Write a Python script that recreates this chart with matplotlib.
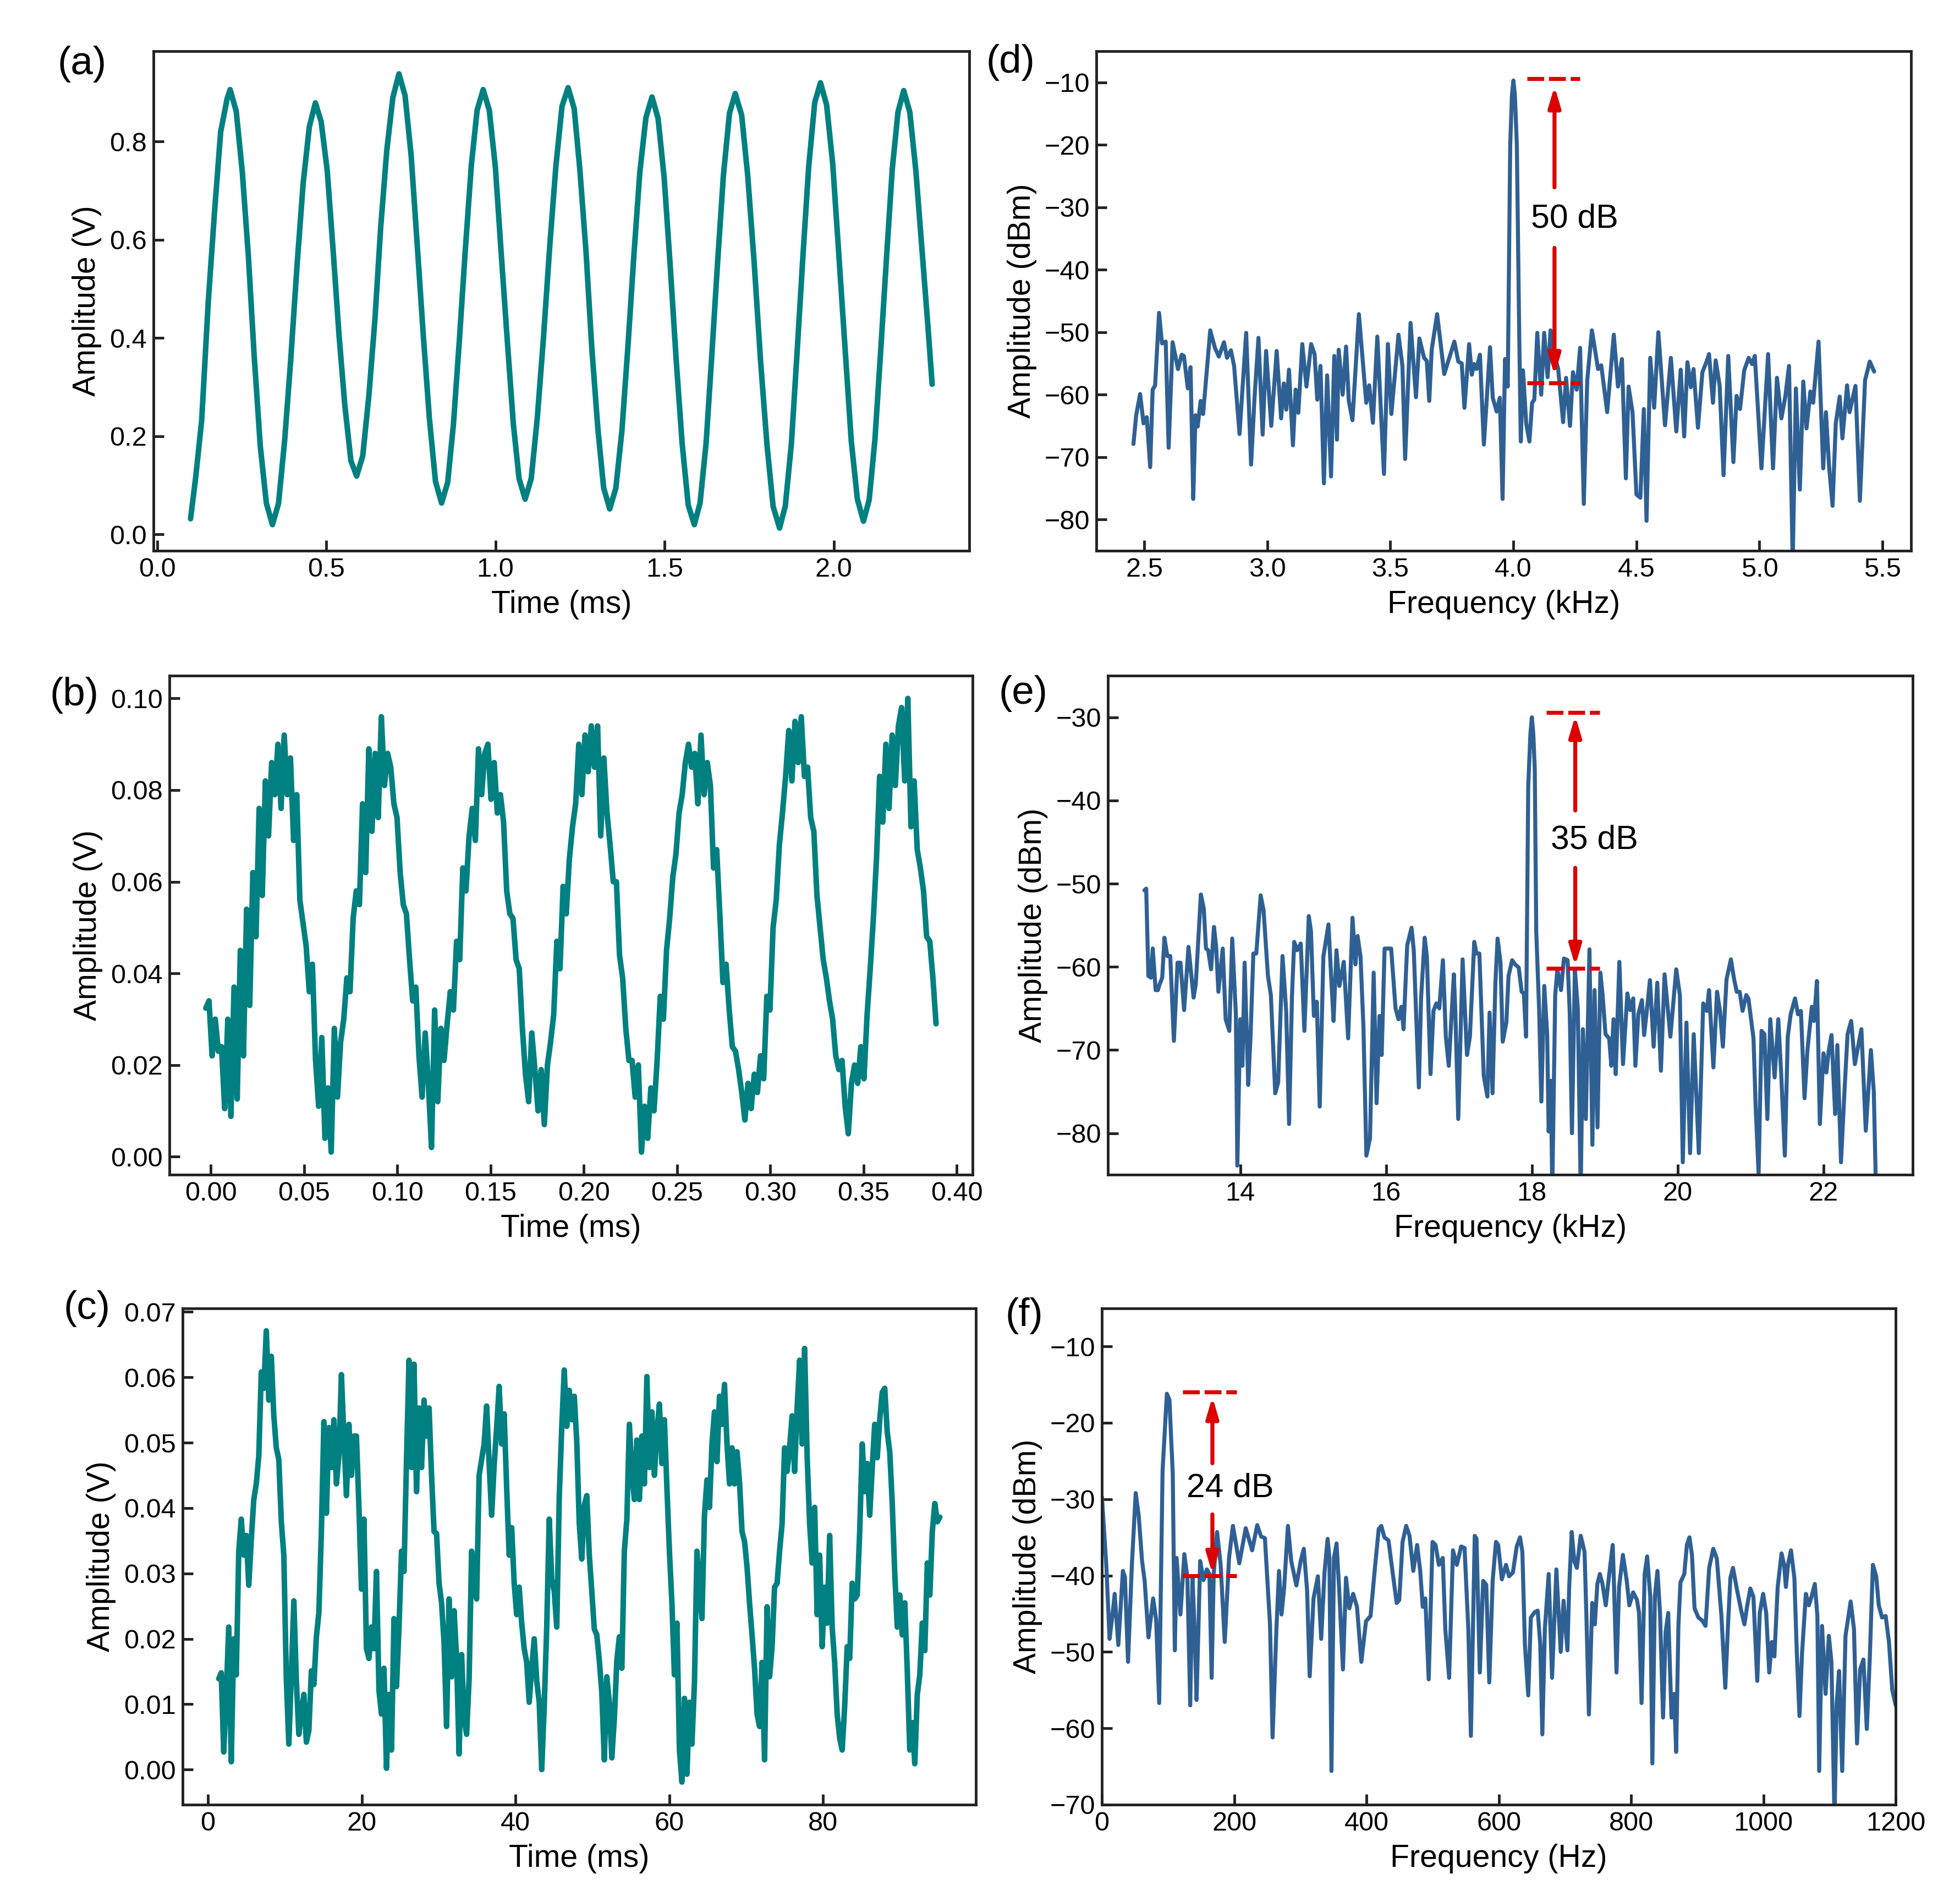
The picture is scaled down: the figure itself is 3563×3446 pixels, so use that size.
import numpy as np
import matplotlib
matplotlib.use("Agg")
import matplotlib.pyplot as plt

plt.rcParams['font.family'] = ['Liberation Sans', 'DejaVu Sans']
plt.rcParams['font.size'] = 14
plt.rcParams['axes.linewidth'] = 1.4
plt.rcParams['axes.edgecolor'] = '#222222'
plt.rcParams['lines.solid_joinstyle'] = 'round'
plt.rcParams['lines.solid_capstyle'] = 'round'

teal = "#008080"
blue = "#2f6094"
red = "#dd0000"

# ---- (a) time trace, 4 kHz tone ----
t_a = [0.099, 0.114, 0.132, 0.151, 0.170, 0.188, 0.207, 0.216,
       0.234, 0.252, 0.270, 0.287, 0.305, 0.323, 0.341,
       0.359, 0.377, 0.395, 0.414, 0.432, 0.450, 0.468,
       0.485, 0.503, 0.520, 0.538, 0.555, 0.573, 0.590,
       0.608, 0.626, 0.644, 0.661, 0.679, 0.697, 0.715,
       0.733, 0.751, 0.769, 0.787, 0.805, 0.823, 0.841,
       0.859, 0.876, 0.894, 0.911, 0.929, 0.946, 0.964,
       0.982, 1.000, 1.017, 1.035, 1.053, 1.070, 1.088,
       1.106, 1.124, 1.142, 1.161, 1.179, 1.197, 1.215,
       1.233, 1.250, 1.268, 1.285, 1.303, 1.320, 1.338,
       1.356, 1.374, 1.392, 1.409, 1.427, 1.445, 1.463,
       1.481, 1.499, 1.517, 1.534, 1.552, 1.570, 1.588,
       1.605, 1.623, 1.640, 1.657, 1.674, 1.692, 1.709,
       1.728, 1.746, 1.765, 1.784, 1.803, 1.821, 1.840,
       1.857, 1.875, 1.892, 1.909, 1.926, 1.944, 1.961,
       1.979, 1.997, 2.015, 2.034, 2.052, 2.070, 2.088,
       2.105, 2.122, 2.139, 2.156, 2.173, 2.190, 2.207,
       2.225, 2.243, 2.261, 2.279, 2.291]
v_a = [0.032, 0.115, 0.233, 0.470, 0.658, 0.820, 0.887, 0.906,
       0.862, 0.738, 0.566, 0.365, 0.181, 0.064, 0.020,
       0.063, 0.190, 0.355, 0.550, 0.716, 0.830, 0.879,
       0.841, 0.741, 0.583, 0.405, 0.263, 0.150, 0.119,
       0.160, 0.282, 0.438, 0.625, 0.782, 0.890, 0.938,
       0.894, 0.772, 0.590, 0.405, 0.236, 0.108, 0.064,
       0.106, 0.224, 0.400, 0.578, 0.752, 0.864, 0.906,
       0.864, 0.748, 0.575, 0.397, 0.226, 0.114, 0.072,
       0.114, 0.238, 0.399, 0.590, 0.751, 0.872, 0.910,
       0.867, 0.741, 0.575, 0.380, 0.215, 0.095, 0.052,
       0.094, 0.211, 0.385, 0.564, 0.738, 0.849, 0.891,
       0.847, 0.726, 0.545, 0.360, 0.186, 0.060, 0.020,
       0.064, 0.187, 0.368, 0.556, 0.731, 0.858, 0.898,
       0.854, 0.730, 0.553, 0.352, 0.181, 0.057, 0.013,
       0.058, 0.185, 0.373, 0.566, 0.748, 0.880, 0.920,
       0.875, 0.756, 0.572, 0.375, 0.190, 0.072, 0.027,
       0.071, 0.194, 0.375, 0.562, 0.743, 0.860, 0.904,
       0.860, 0.740, 0.580, 0.420, 0.306]

# ---- (b) time trace, 18 kHz tone (evenly sampled) ----
t_b_start, t_b_end = -0.0027, 0.3889
v_b = [0.0324, 0.034, 0.022, 0.030, 0.023, 0.024, 0.0105, 0.030, 0.0088, 0.037,
       0.0126, 0.045, 0.022, 0.054, 0.033, 0.062, 0.048, 0.076, 0.057, 0.082,
       0.070, 0.086, 0.079, 0.090, 0.076, 0.092, 0.079, 0.087, 0.069, 0.079,
       0.056, 0.051, 0.046, 0.036, 0.042, 0.021, 0.011, 0.026, 0.004, 0.015,
       0.001, 0.028, 0.013, 0.025, 0.030, 0.039, 0.036, 0.052, 0.058, 0.055,
       0.077, 0.062, 0.089, 0.071, 0.088, 0.074, 0.096, 0.081, 0.088, 0.085,
       0.077, 0.074, 0.062, 0.055, 0.053, 0.043, 0.034, 0.037, 0.022, 0.013,
       0.027, 0.016, 0.002, 0.032, 0.012, 0.028, 0.021, 0.029, 0.036, 0.032,
       0.047, 0.043, 0.063, 0.058, 0.070, 0.076, 0.069, 0.089, 0.079, 0.088,
       0.090, 0.078, 0.086, 0.075, 0.079, 0.073, 0.058, 0.053, 0.052, 0.043,
       0.041, 0.028, 0.018, 0.012, 0.027, 0.019, 0.010, 0.019, 0.007, 0.020,
       0.025, 0.031, 0.047, 0.041, 0.059, 0.053, 0.065, 0.072, 0.077, 0.090,
       0.079, 0.092, 0.084, 0.094, 0.085, 0.094, 0.070, 0.087, 0.075, 0.068,
       0.060, 0.060, 0.044, 0.039, 0.028, 0.021, 0.021, 0.013, 0.020, 0.001,
       0.011, 0.004, 0.015, 0.010, 0.021, 0.035, 0.030, 0.045, 0.052, 0.061,
       0.066, 0.075, 0.079, 0.086, 0.090, 0.085, 0.088, 0.077, 0.092, 0.079,
       0.086, 0.081, 0.063, 0.067, 0.053, 0.038, 0.042, 0.032, 0.024, 0.023,
       0.019, 0.014, 0.008, 0.016, 0.0105, 0.018, 0.014, 0.022, 0.017, 0.035,
       0.032, 0.050, 0.056, 0.068, 0.075, 0.083, 0.093, 0.082, 0.095, 0.086,
       0.096, 0.083, 0.085, 0.074, 0.071, 0.057, 0.050, 0.043, 0.039, 0.034,
       0.030, 0.022, 0.019, 0.021, 0.011, 0.005, 0.016, 0.020, 0.016, 0.024,
       0.017, 0.031, 0.041, 0.052, 0.065, 0.083, 0.073, 0.090, 0.076, 0.092,
       0.081, 0.094, 0.098, 0.082, 0.100, 0.072, 0.082, 0.067, 0.063, 0.058,
       0.048, 0.047, 0.039, 0.029]

# ---- (c) time trace, 100 Hz tone (evenly sampled) ----
t_c_start, t_c_end = 1.4, 95.2
v_c = [0.0139, 0.0148, 0.0027, 0.0115, 0.0218, 0.0012, 0.020, 0.0145, 0.0334, 0.0383,
       0.0328, 0.0358, 0.0282, 0.0352, 0.0413, 0.0437, 0.048, 0.0608, 0.0583, 0.0671,
       0.0565, 0.0632, 0.0541, 0.0492, 0.0474, 0.0379, 0.0328, 0.0139, 0.0039, 0.0145,
       0.0258, 0.0136, 0.0054, 0.0085, 0.0115, 0.0042, 0.006, 0.0151, 0.013, 0.0203,
       0.024, 0.0364, 0.0532, 0.0392, 0.0523, 0.0462, 0.0535, 0.0437, 0.048, 0.0604,
       0.0508, 0.0419, 0.0528, 0.045, 0.051, 0.051, 0.0401, 0.0276, 0.0383, 0.0185,
       0.017, 0.0218, 0.0185, 0.0303, 0.0121, 0.0085, 0.0155, 0.0002, 0.0115, 0.003,
       0.0231, 0.0127, 0.0218, 0.0334, 0.0303, 0.0474, 0.0626, 0.0462, 0.062, 0.0425,
       0.0553, 0.0462, 0.0565, 0.051, 0.0553, 0.045, 0.0364, 0.0361, 0.0285, 0.0255,
       0.0194, 0.0066, 0.0261, 0.0142, 0.0243, 0.017, 0.0024, 0.0176, 0.0078, 0.0054,
       0.0139, 0.0334, 0.0279, 0.0261, 0.045, 0.0474, 0.0498, 0.0556, 0.0468, 0.0389,
       0.0465, 0.0523, 0.0586, 0.0498, 0.0544, 0.0431, 0.0328, 0.037, 0.0285, 0.0237,
       0.0279, 0.0224, 0.0185, 0.0164, 0.0103, 0.0155, 0.020, 0.0136, 0.0103, 0.0,
       0.0097, 0.0218, 0.0383, 0.0291, 0.0273, 0.0218, 0.0416, 0.0523, 0.0611, 0.0525,
       0.058, 0.0535, 0.0571, 0.0501, 0.0376, 0.0322, 0.0404, 0.0419, 0.0328, 0.0273,
       0.0215, 0.0206, 0.0167, 0.0118, 0.0015, 0.0142, 0.0103, 0.0018, 0.0078, 0.0167,
       0.0203, 0.0155, 0.0334, 0.0383, 0.0528, 0.0456, 0.0413, 0.0504, 0.0413, 0.051,
       0.0437, 0.0601, 0.0462, 0.0547, 0.045, 0.0516, 0.0559, 0.0468, 0.0535, 0.0431,
       0.0334, 0.0255, 0.0145, 0.0224, 0.003, -0.0019, 0.0109, -0.0007, 0.0103, 0.0039,
       0.0133, 0.0334, 0.0285, 0.0231, 0.0389, 0.0443, 0.0401, 0.0498, 0.0547, 0.0471,
       0.0571, 0.0528, 0.0589, 0.0498, 0.0437, 0.0492, 0.0437, 0.0486, 0.044, 0.0364,
       0.0349, 0.031, 0.0255, 0.0206, 0.0155, 0.0085, 0.0066, 0.0164, 0.0015, 0.0249,
       0.0142, 0.0188, 0.0279, 0.0285, 0.0334, 0.0376, 0.0492, 0.0456, 0.0492, 0.0541,
       0.0456, 0.0553, 0.0626, 0.0498, 0.0644, 0.048, 0.0376, 0.0316, 0.0401, 0.0237,
       0.0328, 0.0188, 0.0279, 0.0224, 0.0358, 0.0218, 0.0164, 0.0085, 0.0048, 0.003,
       0.0097, 0.0188, 0.017, 0.0285, 0.0261, 0.0267, 0.0364, 0.0498, 0.0425, 0.0468,
       0.0389, 0.0462, 0.0528, 0.0477, 0.0535, 0.0577, 0.0583, 0.0516, 0.0486, 0.0407,
       0.03, 0.0218, 0.0267, 0.0206, 0.0255, 0.0151, 0.003, 0.0072, 0.0009, 0.0115,
       0.0145, 0.0224, 0.0182, 0.0316, 0.0267, 0.0364, 0.0407, 0.0379, 0.0386]

# ---- (d) spectrum around 4 kHz ----
f_d = [2.456, 2.467, 2.483, 2.497, 2.510, 2.524, 2.534, 2.544, 2.560, 2.572,
       2.587, 2.599, 2.615, 2.637, 2.652, 2.661, 2.677, 2.688, 2.699, 2.708,
       2.717, 2.729, 2.739, 2.768, 2.787, 2.803, 2.824, 2.836, 2.852, 2.865,
       2.887, 2.914, 2.934, 2.948, 2.964, 2.981, 2.995, 3.016, 3.038, 3.056,
       3.067, 3.077, 3.088, 3.104, 3.115, 3.126, 3.142, 3.159, 3.178, 3.192,
       3.203, 3.216, 3.230, 3.243, 3.259, 3.272, 3.283, 3.290, 3.306, 3.320,
       3.331, 3.346, 3.372, 3.402, 3.414, 3.429, 3.447, 3.474, 3.490, 3.504,
       3.533, 3.549, 3.560, 3.582, 3.604, 3.618, 3.637, 3.648, 3.658, 3.668,
       3.690, 3.719, 3.760, 3.776, 3.790, 3.801, 3.820, 3.831, 3.840, 3.850,
       3.864, 3.880, 3.905, 3.916, 3.932, 3.945, 3.956, 3.966, 3.977, 3.987,
       3.994, 4.000, 4.006, 4.014, 4.023, 4.030, 4.039, 4.052, 4.065, 4.076,
       4.085, 4.097, 4.113, 4.125, 4.139, 4.151, 4.167, 4.182, 4.202, 4.214,
       4.230, 4.242, 4.257, 4.271, 4.286, 4.300, 4.319, 4.344, 4.357, 4.381,
       4.408, 4.425, 4.441, 4.457, 4.468, 4.484, 4.500, 4.516, 4.530, 4.541,
       4.556, 4.572, 4.589, 4.616, 4.640, 4.662, 4.680, 4.694, 4.707, 4.721,
       4.732, 4.750, 4.768, 4.786, 4.795, 4.811, 4.822, 4.838, 4.854, 4.873,
       4.894, 4.907, 4.921, 4.938, 4.956, 4.970, 4.981, 5.008, 5.035, 5.055,
       5.071, 5.089, 5.105, 5.120, 5.135, 5.148, 5.164, 5.178, 5.191, 5.207,
       5.218, 5.240, 5.259, 5.270, 5.283, 5.297, 5.310, 5.326, 5.337, 5.356,
       5.366, 5.390, 5.408, 5.429, 5.448, 5.466]
p_d = [-67.9, -63.3, -59.9, -64.6, -63.6, -71.6, -59.2, -58.5, -46.9, -51.8,
       -51.5, -68.5, -51.6, -55.9, -53.6, -53.8, -59.0, -55.6, -76.7, -63.3,
       -65.1, -61.0, -63.1, -49.7, -52.5, -53.9, -51.6, -54.1, -52.9, -55.4,
       -66.3, -50.1, -71.2, -60.5, -50.9, -66.4, -53.0, -65.0, -53.0, -63.8,
       -58.2, -62.4, -56.0, -68.1, -59.2, -62.9, -51.9, -58.7, -51.9, -53.5,
       -60.8, -55.4, -74.2, -56.9, -73.1, -53.8, -67.2, -52.8, -60.0, -52.3,
       -61.0, -64.1, -47.1, -61.3, -58.5, -64.5, -50.7, -72.7, -51.9, -63.1,
       -50.4, -55.4, -70.3, -48.5, -60.4, -51.0, -54.1, -54.6, -61.0, -52.8,
       -47.1, -56.7, -51.5, -54.7, -55.0, -62.1, -51.9, -56.8, -55.1, -55.9,
       -53.6, -68.0, -52.4, -60.5, -62.7, -60.5, -76.7, -54.3, -58.7, -20.1,
       -12.0, -9.7, -12.0, -20.1, -48.4, -67.5, -56.1, -64.6, -67.5, -61.3,
       -60.8, -50.1, -60.0, -50.1, -57.2, -49.7, -53.6, -55.9, -64.4, -57.3,
       -65.0, -56.4, -59.2, -52.5, -77.5, -57.7, -49.7, -55.9, -55.3, -62.8,
       -50.4, -58.7, -54.3, -73.4, -58.7, -62.8, -76.0, -76.5, -62.3, -80.2,
       -54.1, -62.1, -50.0, -64.9, -54.1, -65.9, -56.0, -66.7, -54.8, -58.8,
       -55.9, -65.3, -56.4, -54.6, -53.5, -61.3, -54.5, -58.5, -72.9, -53.8,
       -70.8, -60.2, -62.3, -56.1, -54.1, -55.1, -53.8, -71.8, -53.5, -71.8,
       -57.3, -63.8, -60.3, -55.4, -87.0, -59.0, -75.2, -57.9, -65.4, -59.5,
       -61.3, -51.5, -71.8, -62.8, -71.6, -77.8, -64.6, -60.3, -67.0, -58.5,
       -62.8, -58.6, -77.0, -57.7, -54.7, -56.3]

# ---- (e) spectrum around 18 kHz ----
f_e = [12.685, 12.71, 12.74, 12.775, 12.80, 12.84, 12.87, 12.89, 12.93, 12.96,
       13.00, 13.04, 13.09, 13.14, 13.18, 13.23, 13.29, 13.36, 13.39, 13.46,
       13.50, 13.53, 13.56, 13.60, 13.64, 13.67, 13.70, 13.76, 13.80, 13.85,
       13.89, 13.94, 13.96, 14.00, 14.03, 14.06, 14.11, 14.14, 14.18, 14.22,
       14.28, 14.32, 14.38, 14.42, 14.48, 14.52, 14.58, 14.63, 14.67, 14.71,
       14.74, 14.78, 14.83, 14.88, 14.94, 14.97, 15.01, 15.05, 15.09, 15.14,
       15.21, 15.25, 15.28, 15.32, 15.36, 15.42, 15.48, 15.54, 15.58, 15.61,
       15.65, 15.69, 15.73, 15.78, 15.83, 15.87, 15.91, 15.94, 15.98, 16.04,
       16.07, 16.13, 16.17, 16.21, 16.24, 16.29, 16.35, 16.38, 16.45, 16.48,
       16.53, 16.56, 16.61, 16.65, 16.69, 16.73, 16.78, 16.82, 16.86, 16.93,
       16.95, 16.99, 17.05, 17.11, 17.15, 17.21, 17.24, 17.28, 17.34, 17.39,
       17.42, 17.46, 17.50, 17.53, 17.57, 17.60, 17.65, 17.68, 17.73, 17.77,
       17.82, 17.86, 17.89, 17.92, 17.95, 17.98, 18.00, 18.02, 18.04, 18.06,
       18.10, 18.13, 18.17, 18.21, 18.23, 18.26, 18.28, 18.32, 18.35, 18.40,
       18.44, 18.49, 18.52, 18.55, 18.59, 18.63, 18.67, 18.70, 18.74, 18.79,
       18.83, 18.86, 18.90, 18.94, 18.97, 19.01, 19.06, 19.09, 19.12, 19.15,
       19.20, 19.25, 19.31, 19.35, 19.39, 19.42, 19.46, 19.51, 19.54, 19.58,
       19.62, 19.67, 19.72, 19.77, 19.82, 19.90, 19.98, 20.03, 20.07, 20.12,
       20.17, 20.22, 20.29, 20.35, 20.40, 20.43, 20.49, 20.54, 20.58, 20.62,
       20.67, 20.73, 20.77, 20.81, 20.85, 20.89, 20.94, 20.97, 21.04, 21.07,
       21.11, 21.15, 21.19, 21.23, 21.27, 21.33, 21.38, 21.42, 21.47, 21.51,
       21.55, 21.61, 21.65, 21.69, 21.74, 21.78, 21.84, 21.87, 21.91, 21.95,
       22.00, 22.04, 22.07, 22.11, 22.16, 22.19, 22.24, 22.29, 22.33, 22.38,
       22.43, 22.47, 22.52, 22.58, 22.65, 22.69, 22.72]
p_e = [-50.8, -50.6, -61.1, -61.3, -57.8, -62.8, -62.8, -62.2, -61.3, -56.5,
       -58.7, -58.7, -68.9, -59.5, -59.5, -65.2, -57.6, -63.7, -62.1, -51.3,
       -53.0, -57.8, -58.0, -60.3, -55.2, -57.6, -63.0, -57.8, -66.3, -67.7,
       -56.6, -65.7, -83.9, -66.3, -71.9, -59.5, -74.2, -68.6, -58.4, -58.4,
       -51.4, -53.2, -61.1, -63.4, -75.2, -73.9, -58.7, -65.3, -78.9, -63.4,
       -57.0, -58.0, -57.2, -67.7, -53.9, -55.7, -65.9, -64.2, -76.8, -58.8,
       -54.9, -61.7, -66.5, -58.0, -62.3, -59.4, -68.6, -54.1, -59.7, -56.3,
       -58.8, -67.3, -82.7, -80.6, -60.7, -76.4, -65.9, -70.6, -57.8, -57.8,
       -57.8, -65.0, -66.3, -64.8, -67.5, -57.4, -55.3, -58.0, -74.5, -63.8,
       -56.5, -58.8, -72.9, -65.3, -64.4, -65.0, -59.2, -68.4, -71.9, -60.9,
       -65.3, -78.3, -59.1, -70.6, -68.4, -57.0, -58.4, -58.4, -73.1, -75.6,
       -65.5, -75.2, -61.9, -56.6, -59.5, -69.0, -66.7, -61.1, -59.2, -59.7,
       -60.1, -63.0, -63.2, -68.4, -38.3, -32.0, -30.0, -32.0, -36.3, -55.7,
       -65.3, -76.2, -62.3, -68.1, -79.8, -73.7, -87.0, -63.4, -60.3, -62.8,
       -59.0, -59.2, -65.7, -80.0, -60.3, -65.0, -87.0, -67.5, -78.3, -57.9,
       -81.4, -62.8, -79.3, -60.7, -63.4, -68.1, -68.6, -71.9, -66.3, -72.9,
       -59.4, -71.7, -63.2, -65.2, -63.8, -71.9, -65.7, -64.0, -68.2, -65.0,
       -61.6, -69.6, -61.9, -72.5, -60.9, -68.4, -60.3, -63.4, -83.5, -66.7,
       -82.4, -68.1, -82.4, -64.4, -65.3, -62.8, -72.1, -63.0, -65.3, -69.6,
       -61.5, -59.1, -61.3, -63.0, -63.0, -65.3, -63.4, -63.8, -68.6, -76.9,
       -84.9, -67.7, -68.1, -78.3, -66.3, -73.3, -66.3, -72.9, -82.7, -68.4,
       -65.7, -63.8, -65.7, -65.3, -75.8, -70.0, -64.8, -66.5, -61.7, -78.9,
       -70.4, -72.7, -70.2, -68.2, -77.7, -69.4, -83.5, -74.6, -68.1, -66.5,
       -71.7, -69.8, -67.5, -79.7, -70.0, -75.0, -87.0]

# ---- (f) spectrum 0-1200 Hz ----
f_f = [0.0, 6.6, 11.6, 15.5, 19.3, 24.8, 31.7, 34.8, 39.5, 45.3,
       51.1, 55.7, 60.7, 64.6, 70.4, 77.4, 82.0, 86.6, 91.7, 98.2,
       102.1, 107.1, 110.2, 112.9, 118.7, 124.6, 129.2, 133.5, 136.9, 140.0,
       143.1, 148.5, 153.6, 158.6, 162.5, 165.9, 169.0, 174.1, 179.5, 185.7,
       192.2, 198.0, 207.7, 217.4, 227.1, 234.8, 240.6, 246.4, 254.1, 258.0,
       263.8, 267.7, 271.5, 275.4, 281.2, 286.2, 294.0, 300.5, 305.2, 310.2,
       314.1, 319.9, 326.5, 331.5, 336.5, 341.2, 343.9, 347.0, 350.8, 354.7,
       358.6, 364.4, 369.0, 374.0, 379.8, 385.6, 392.2, 399.2, 406.1, 412.7,
       418.5, 422.4, 427.0, 433.2, 439.8, 445.6, 449.5, 454.5, 460.0, 465.0,
       470.7, 476.5, 481.2, 485.0, 488.9, 494.0, 499.8, 504.4, 509.4, 515.3,
       519.1, 524.9, 530.7, 536.5, 543.1, 548.2, 553.9, 557.8, 563.6, 566.3,
       571.3, 576.3, 581.0, 585.6, 590.7, 595.7,
       599.0, 604.6, 610.8, 615.5, 621.3, 627.1, 632.1, 635.6, 639.5, 644.5,
       648.4, 654.2, 658.8, 662.7, 665.8, 669.6, 675.4, 680.5, 687.0, 693.6,
       697.9, 703.7, 706.4, 710.2, 714.1, 718.0, 723.8, 729.6, 732.3, 736.2,
       741.2, 745.1, 749.0, 752.8, 756.7, 761.7, 766.3, 772.2, 774.1, 777.9,
       781.8, 787.6, 793.4, 797.3, 803.1, 808.9, 812.0, 815.8, 820.5, 824.3,
       829.0, 832.1, 835.9, 839.8, 843.7, 848.3, 852.2, 856.1, 861.1, 865.0,
       868.1, 871.5, 874.6, 880.4, 884.3, 888.2, 892.0, 895.9, 901.7, 907.5,
       912.5, 918.0, 924.2, 929.6, 936.5, 942.4, 946.2, 950.1, 954.0, 959.7,
       966.7, 971.3, 975.2, 980.2, 984.9, 990.7, 994.5, 999.6, 1004.2, 1008.8,
       1012.7, 1016.6, 1021.6, 1027.4, 1031.3, 1034.0, 1037.1, 1041.7, 1046.8, 1050.6,
       1054.5, 1058.4, 1064.2, 1068.8, 1072.7, 1077.7, 1081.6, 1084.3, 1088.6, 1094.0,
       1098.9, 1102.8, 1107.5, 1110.6, 1114.4, 1119.1, 1124.1, 1131.9, 1136.9, 1141.5,
       1146.2, 1151.2, 1156.3, 1160.8, 1165.5, 1170.5, 1174.4, 1179.4, 1184.8, 1189.8,
       1194.8, 1200.0]
p_f = [-29.7, -38.6, -48.3, -45.5, -42.4, -49.1, -39.4, -40.2, -51.3, -38.6,
       -29.2, -32.2, -38.1, -40.7, -48.1, -43.0, -45.8, -56.7, -26.3, -16.2,
       -17.0, -26.7, -49.8, -37.7, -45.1, -37.2, -40.3, -57.0, -40.1, -47.0,
       -56.3, -38.1, -40.6, -39.2, -39.8, -53.4, -39.8, -34.3, -38.6, -48.7,
       -37.7, -33.5, -38.4, -33.8, -36.7, -33.4, -34.9, -35.1, -46.4, -61.2,
       -47.0, -39.4, -45.1, -41.7, -33.5, -38.1, -41.3, -38.1, -36.5, -42.0,
       -53.2, -43.0, -40.1, -48.3, -39.6, -35.2, -37.7, -65.6, -37.7, -35.8,
       -41.7, -52.3, -40.3, -44.3, -42.4, -44.1, -51.3, -46.0, -45.3, -39.0,
       -33.9, -33.5, -35.0, -35.4, -39.8, -43.6, -43.2, -35.6, -33.5, -34.8,
       -39.4, -36.0, -39.4, -44.1, -43.0, -53.6, -35.6, -36.0, -38.6, -37.7,
       -47.0, -53.4, -36.7, -38.6, -36.2, -36.4, -47.0, -61.0, -34.8, -35.2,
       -52.7, -40.7, -41.2, -54.0, -40.7, -35.6,
       -36.0, -40.5, -38.6, -40.1, -39.6, -36.2, -35.0, -36.9, -49.1, -55.7,
       -45.5, -44.8, -44.6, -49.1, -60.8, -47.0, -39.8, -53.4, -39.2, -50.0,
       -43.3, -49.8, -41.5, -34.3, -38.1, -39.0, -34.8, -36.9, -44.9, -58.2,
       -43.6, -46.4, -41.1, -39.8, -41.1, -43.9, -40.3, -36.0, -41.1, -52.7,
       -41.5, -37.3, -40.7, -43.9, -42.2, -43.2, -44.9, -56.7, -39.8, -37.5,
       -42.8, -64.6, -42.8, -39.4, -44.9, -58.6, -47.4, -44.9, -58.6, -55.5,
       -63.1, -46.6, -40.9, -39.8, -36.0, -35.0, -37.3, -44.3, -45.5, -45.9,
       -46.6, -39.0, -36.5, -37.8, -45.3, -54.7, -47.0, -40.3, -39.0, -41.7,
       -44.7, -46.4, -44.1, -41.7, -42.8, -53.8, -44.9, -42.4, -44.9, -52.7,
       -48.7, -50.6, -41.5, -37.1, -38.6, -41.5, -38.6, -36.7, -40.3, -50.4,
       -58.4, -50.2, -42.4, -43.9, -42.8, -41.1, -45.3, -65.6, -46.6, -55.5,
       -47.9, -51.3, -72.0, -57.0, -52.5, -65.6, -47.9, -43.4, -47.0, -62.0,
       -52.3, -51.0, -60.1, -50.8, -38.6, -40.1, -43.9, -45.5, -45.3, -48.7,
       -55.0, -57.0]

# scope samples are evenly spaced between the first and last point
t_b = np.linspace(t_b_start, t_b_end, len(v_b))
t_c = np.linspace(t_c_start, t_c_end, len(v_c))

fig = plt.figure(figsize=(14.252, 13.784), dpi=250)

ax_a = fig.add_axes([0.0783, 0.7095, 0.4162, 0.2635])
ax_d = fig.add_axes([0.5594, 0.7095, 0.4157, 0.2635])
ax_b = fig.add_axes([0.0864, 0.3804, 0.4098, 0.2632])
ax_e = fig.add_axes([0.5652, 0.3804, 0.4106, 0.2632])
ax_c = fig.add_axes([0.0932, 0.0482, 0.4047, 0.2618])
ax_f = fig.add_axes([0.5622, 0.0482, 0.4050, 0.2618])

for ax in [ax_a, ax_b, ax_c, ax_d, ax_e, ax_f]:
    ax.tick_params(direction="in", length=5.5, width=1.4, labelsize=14, color="#222222")

lab = 16.5
lw_t = 2.9
lw_s = 2.1

ax_a.plot(t_a, v_a, color=teal, lw=lw_t)
ax_a.set_xticks([0.0, 0.5, 1.0, 1.5, 2.0])
ax_a.set_yticks([0.0, 0.2, 0.4, 0.6, 0.8])
ax_a.set_xlabel("Time (ms)", fontsize=lab)
ax_a.set_ylabel("Amplitude (V)", fontsize=lab)

ax_b.plot(t_b, v_b, color=teal, lw=lw_t)
ax_b.set_xticks(np.arange(0, 0.401, 0.05))
ax_b.set_yticks(np.arange(0, 0.101, 0.02))
ax_b.set_xlabel("Time (ms)", fontsize=lab)
ax_b.set_ylabel("Amplitude (V)", fontsize=lab)

ax_c.plot(t_c, v_c, color=teal, lw=lw_t)
ax_c.set_xticks([0, 20, 40, 60, 80])
ax_c.set_yticks(np.arange(0, 0.0701, 0.01))
ax_c.set_xlabel("Time (ms)", fontsize=lab)
ax_c.set_ylabel("Amplitude (V)", fontsize=lab)

ax_d.plot(f_d, p_d, color=blue, lw=lw_s)
ax_d.set_ylim(-85, -5)
ax_d.set_xticks([2.5, 3.0, 3.5, 4.0, 4.5, 5.0, 5.5])
ax_d.set_xlabel("Frequency (kHz)", fontsize=lab)
ax_d.set_ylabel("Amplitude (dBm)", fontsize=lab)

ax_e.plot(f_e, p_e, color=blue, lw=lw_s)
ax_e.set_ylim(-85, -25)
ax_e.set_xticks([14, 16, 18, 20, 22])
ax_e.set_xlabel("Frequency (kHz)", fontsize=lab)
ax_e.set_ylabel("Amplitude (dBm)", fontsize=lab)

ax_f.plot(f_f, p_f, color=blue, lw=lw_s)
ax_f.set_xlim(0, 1200)
ax_f.set_ylim(-70, -5)
ax_f.set_xlabel("Frequency (Hz)", fontsize=lab)
ax_f.set_ylabel("Amplitude (dBm)", fontsize=lab)


def gap_marker(ax, x0, x1, xa, top, bot, tip_top, tip_bot, s_top, s_bot, text, tx, ty):
    dash = (0, (4.2, 1.2))
    ax.plot([x0, x1], [top, top], color=red, lw=2.1, ls=dash, zorder=4,
            solid_capstyle='butt', dash_capstyle='butt')
    ax.plot([x0, x1], [bot, bot], color=red, lw=2.1, ls=dash, zorder=4,
            solid_capstyle='butt', dash_capstyle='butt')
    aprops = dict(arrowstyle="-|>,head_length=0.75,head_width=0.22", color=red,
                  lw=2.1, mutation_scale=12, shrinkA=0, shrinkB=0)
    ax.annotate("", xy=(xa, tip_top), xytext=(xa, s_top), arrowprops=aprops, zorder=5)
    ax.annotate("", xy=(xa, tip_bot), xytext=(xa, s_bot), arrowprops=aprops, zorder=5)
    ax.text(tx, ty, text, fontsize=17.5, ha="left", va="center", zorder=6)


gap_marker(ax_d, 4.055, 4.271, 4.167, -9.4, -58.1, -10.6, -56.9, -26.8, -36.5,
           "50 dB", 4.071, -31.9)
gap_marker(ax_e, 18.20, 18.93, 18.595, -29.4, -60.2, -29.8, -59.9, -41.2, -48.1,
           "35 dB", 18.26, -44.8)
gap_marker(ax_f, 122, 204, 167, -16.0, -40.0, -16.6, -39.8, -25.3, -32.0,
           "24 dB", 128, -28.6)

panel = [("(a)", 0.0418, 0.9663), ("(d)", 0.5156, 0.9672),
         ("(b)", 0.0379, 0.6332), ("(e)", 0.5220, 0.6341),
         ("(c)", 0.0443, 0.3099), ("(f)", 0.5226, 0.3059)]
for s, x, y in panel:
    fig.text(x, y, s, fontsize=21, ha="center", va="center")

plt.savefig("out.png", dpi=250)
